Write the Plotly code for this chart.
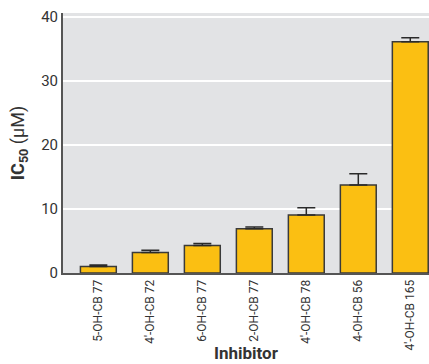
import plotly.graph_objects as go

inhibitors = ["5-OH-CB 77", "4\u2032-OH-CB 72", "6-OH-CB 77", "2-OH-CB 77",
              "4\u2032-OH-CB 78", "4-OH-CB 56", "4\u2032-OH-CB 165"]
ic50 = [1.0, 3.2, 4.3, 6.9, 9.05, 13.75, 36.1]
ic50_err = [0.25, 0.35, 0.3, 0.3, 1.15, 1.75, 0.65]
y_ticks = [0, 10, 20, 30, 40]

FONT = "Roboto, Liberation Sans, sans-serif"

fig = go.Figure(go.Bar(
    x=list(range(len(inhibitors))),
    y=ic50,
    width=0.69,
    marker=dict(color="#FBBF12", line=dict(color="#3a3a3a", width=1.5)),
    error_y=dict(type="data", array=ic50_err, symmetric=False,
                 arrayminus=[0] * len(ic50), color="#2a2a2a",
                 thickness=1.5, width=9),
))

fig.update_layout(
    width=429, height=364,
    margin=dict(l=63, r=0, t=13, b=91),
    paper_bgcolor="white",
    plot_bgcolor="#E2E3E5",
    showlegend=False,
    font=dict(family=FONT, color="#333333"),
    xaxis=dict(
        automargin=False,
        range=[-0.68, 6.36],
        tickmode="array",
        tickvals=list(range(len(inhibitors))),
        ticktext=inhibitors,
        tickangle=-90,
        tickfont=dict(size=12, family=FONT, color="#333333"),
        showgrid=False,
        showline=True, linecolor="#555555", linewidth=2,
        ticks="",
    ),
    yaxis=dict(
        automargin=False,
        range=[0, 40.6],
        tickvals=y_ticks,
        tickfont=dict(size=15, family=FONT, color="#333333"),
        showgrid=True, gridcolor="white", gridwidth=1.5,
        zeroline=False,
        showline=True, linecolor="#555555", linewidth=2,
        ticks="",
        title=dict(text="<b>IC<sub>50</sub></b> (\u03bcM)",
                   font=dict(size=18, family=FONT, color="#333333"),
                   standoff=12),
    ),
    annotations=[dict(
        text="<b>Inhibitor</b>", xref="paper", yref="paper",
        x=0.5, y=-0.308, xanchor="center", yanchor="middle",
        showarrow=False, font=dict(size=17, family=FONT, color="#333333"),
        borderpad=0,
    )],
)

fig.write_html("out.html")
